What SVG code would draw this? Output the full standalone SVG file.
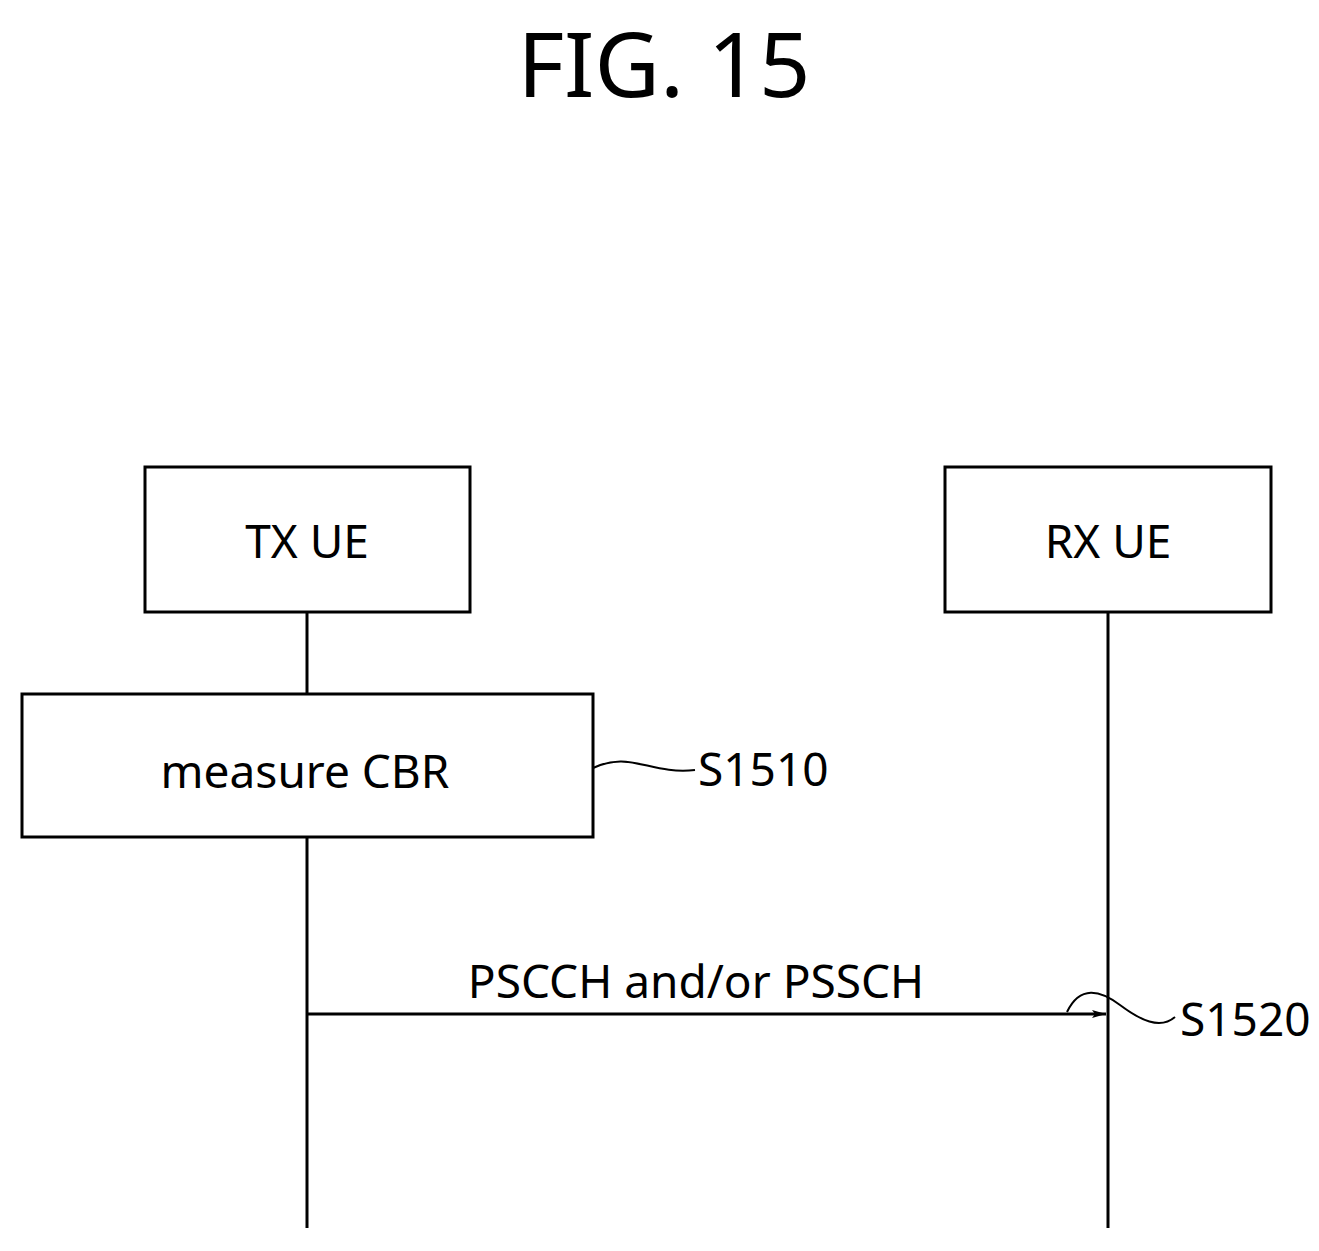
<svg xmlns="http://www.w3.org/2000/svg" width="1319" height="1251" viewBox="0 0 1319 1251">
<style>
.b{fill:#fff;stroke:#000;stroke-width:3}
.l{fill:none;stroke:#000;stroke-width:3}
.s{fill:none;stroke:#000;stroke-width:2}
text{font-family:"Noto Sans","Open Sans",sans-serif;fill:#000}
</style>
<defs><marker id="a" markerWidth="14" markerHeight="8" refX="14" refY="4" orient="auto" markerUnits="userSpaceOnUse"><path d="M0,0 L14,4 L0,8 L3,4Z" fill="#000"/></marker></defs>
<rect width="1319" height="1251" fill="#fff"/>
<text x="664" y="97" font-size="90" text-anchor="middle">FIG. 15</text>
<g id="connectors">
<line class="l" x1="307" y1="612" x2="307" y2="694"/>
<line class="l" x1="307" y1="837" x2="307" y2="1228"/>
<line class="l" x1="1108" y1="612" x2="1108" y2="1228"/>
<line class="l" x1="307" y1="1014" x2="1106" y2="1014" marker-end="url(#a)"/>
<path class="s" d="M593,768 C630,750 650,775 695,770"/>
<path class="s" d="M1067,1012 C1080,985 1100,990 1120,1005 C1140,1020 1160,1030 1175,1017"/>
</g>
<g id="tx"><rect class="b" x="145" y="467" width="325" height="145"/><text x="307" y="558" font-size="46" text-anchor="middle">TX UE</text></g>
<g id="rx"><rect class="b" x="945" y="467" width="326" height="145"/><text x="1108" y="558" font-size="46" text-anchor="middle">RX UE</text></g>
<g id="s1510"><rect class="b" x="22" y="694" width="571" height="143"/><text x="305" y="788" font-size="46" text-anchor="middle">measure CBR</text><text x="698" y="786" font-size="46">S1510</text></g>
<g id="s1520"><text x="696" y="998" font-size="46" text-anchor="middle">PSCCH and/or PSSCH</text><text x="1180" y="1036" font-size="46">S1520</text></g>
</svg>
